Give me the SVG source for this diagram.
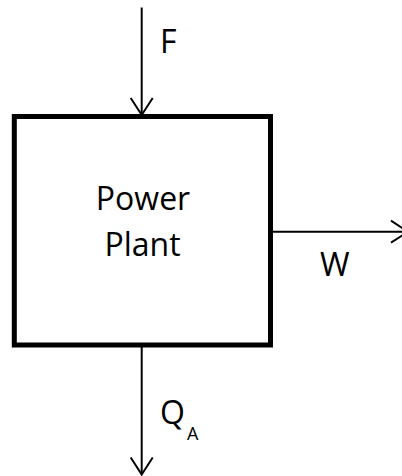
<svg xmlns="http://www.w3.org/2000/svg" width="402" height="476" viewBox="0 0 402 476">
  <style>
    .lbl { font-family: "Open Sans", "Liberation Sans", sans-serif; font-size: 32px; fill: #000; }
    .sub { font-family: "Open Sans", "Liberation Sans", sans-serif; font-size: 18px; fill: #000; }
    .conn { stroke: #000; stroke-width: 2; fill: none; }
  </style>
  <defs>
    <marker id="chev" markerUnits="userSpaceOnUse" markerWidth="30" markerHeight="30" viewBox="-20 -15 24 30" refX="0" refY="0" orient="auto">
      <path d="M-17,-11 L0,0 L-17,11" fill="none" stroke="#000" stroke-width="2"/>
    </marker>
  </defs>
  <rect width="402" height="476" fill="#fff"/>
  <g id="connectors">
    <line id="edge-F" class="conn" x1="141.7" y1="7.5" x2="141.7" y2="115" marker-end="url(#chev)"/>
    <line id="edge-W" class="conn" x1="273" y1="231.7" x2="408" y2="231.7" marker-end="url(#chev)"/>
    <line id="edge-QA" class="conn" x1="141.7" y1="347" x2="141.7" y2="474.5" marker-end="url(#chev)"/>
  </g>
  <g id="node-power-plant">
    <rect x="14.3" y="116.5" width="256.2" height="228.5" fill="none" stroke="#000" stroke-width="5"/>
    <text class="lbl" x="143" y="210" text-anchor="middle">Power</text>
    <text class="lbl" x="142.5" y="255.7" text-anchor="middle">Plant</text>
  </g>
  <g id="labels">
    <text class="lbl" x="160" y="53">F</text>
    <text class="lbl" x="320" y="276">W</text>
    <text class="lbl" x="160" y="424">Q</text>
    <text class="sub" x="187" y="439.5">A</text>
  </g>
</svg>
